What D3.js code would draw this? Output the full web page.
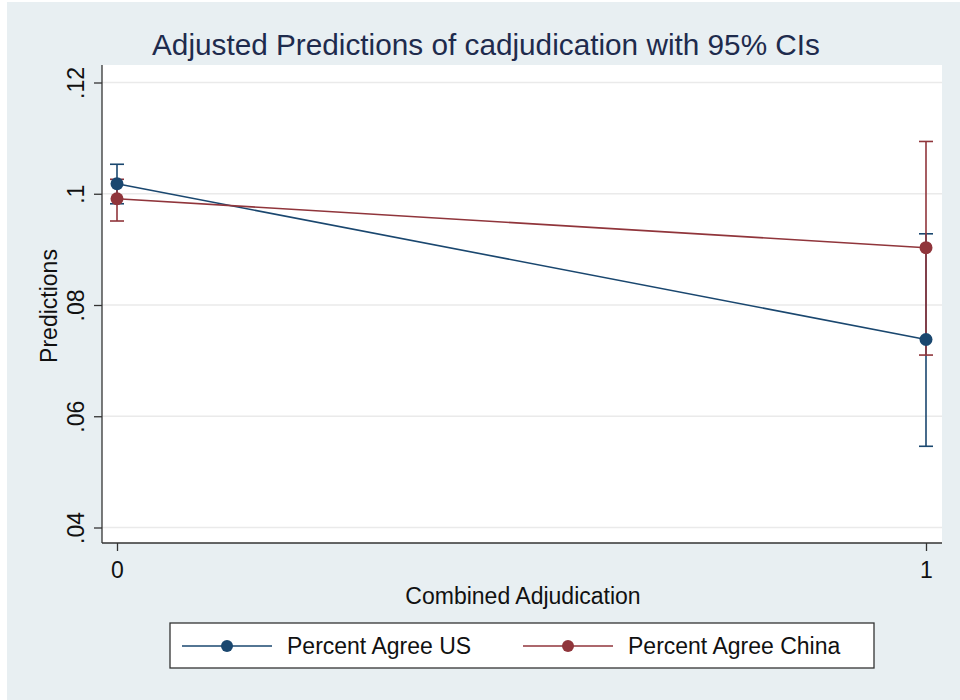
<!DOCTYPE html>
<html>
<head>
<meta charset="utf-8">
<script src="https://cdn.jsdelivr.net/npm/d3@7"></script>
<style>
  html, body { margin: 0; padding: 0; background: #ffffff; }
  svg { display: block; }
  text { font-family: "Liberation Sans", Arial, Helvetica, sans-serif; }
</style>
</head>
<body>
<svg id="chart" width="960" height="700"></svg>
<script>
// Adjusted predictions with 95% confidence intervals
const xCategories = [0, 1];
const xTickLabels = ["0", "1"];
const yTicks = [0.04, 0.06, 0.08, 0.10, 0.12];
const yTickLabels = [".04", ".06", ".08", ".1", ".12"];

const seriesNames = ["Percent Agree US", "Percent Agree China"];
const usEstimate = [0.1018, 0.0738];
const usLower = [0.0982, 0.0546];
const usUpper = [0.1053, 0.0928];
const chinaEstimate = [0.0991, 0.0903];
const chinaLower = [0.0951, 0.0710];
const chinaUpper = [0.1026, 0.1094];

const seriesColors = ["#1a476f", "#90353b"];

const series = [
  { name: seriesNames[0], color: seriesColors[0], est: usEstimate, lo: usLower, hi: usUpper },
  { name: seriesNames[1], color: seriesColors[1], est: chinaEstimate, lo: chinaLower, hi: chinaUpper }
];

const svg = d3.select("#chart");

// outer background
svg.append("rect").attr("x", 7).attr("y", 2).attr("width", 953).attr("height", 698)
  .attr("fill", "#e8eff2");

const plot = { left: 102, right: 942, top: 65, bottom: 543 };

svg.append("rect")
  .attr("x", plot.left).attr("y", plot.top)
  .attr("width", plot.right - plot.left).attr("height", plot.bottom - plot.top)
  .attr("fill", "#ffffff");

const x = d3.scaleLinear().domain([0, 1]).range([117, 926]);
const y = d3.scaleLinear().domain([0.04, 0.12]).range([527.5, 82.5]);

// grid lines
svg.append("g").selectAll("line").data(yTicks).join("line")
  .attr("x1", plot.left).attr("x2", plot.right)
  .attr("y1", d => y(d)).attr("y2", d => y(d))
  .attr("stroke", "#eaeaea").attr("stroke-width", 1.5);

// y axis
const yAxis = d3.axisLeft(y).tickValues(yTicks)
  .tickFormat((d, i) => yTickLabels[i]).tickSize(8).tickPadding(8);
const gy = svg.append("g").attr("transform", `translate(${plot.left},0)`).call(yAxis);
gy.select(".domain").attr("d", `M0,${plot.top}V${plot.bottom}`).attr("stroke", "#333").attr("stroke-width", 1.3);
gy.selectAll(".tick line").attr("stroke", "#333").attr("stroke-width", 1.3);
gy.selectAll(".tick text")
  .attr("font-size", 23).attr("fill", "#111")
  .attr("x", 0).attr("y", 0).attr("dy", 0)
  .attr("text-anchor", "middle")
  .attr("transform", "translate(-18,0) rotate(-90)");

// x axis
const xAxis = d3.axisBottom(x).tickValues(xCategories)
  .tickFormat((d, i) => xTickLabels[i]).tickSize(8).tickPadding(9);
const gx = svg.append("g").attr("transform", `translate(0,${plot.bottom})`).call(xAxis);
gx.select(".domain").attr("d", `M${plot.left},0H${plot.right}`).attr("stroke", "#333").attr("stroke-width", 1.3);
gx.selectAll(".tick line").attr("stroke", "#333").attr("stroke-width", 1.3);
gx.selectAll(".tick text").attr("font-size", 23).attr("fill", "#111")
  .attr("dy", 0).attr("y", 35);

// axis titles
svg.append("text").attr("x", 523).attr("y", 604).attr("text-anchor", "middle")
  .attr("font-size", 23).attr("fill", "#111").text("Combined Adjudication");
svg.append("text").attr("transform", "translate(57,306) rotate(-90)").attr("text-anchor", "middle")
  .attr("font-size", 23).attr("fill", "#111").text("Predictions");

// title
svg.append("text").attr("x", 486).attr("y", 55).attr("text-anchor", "middle")
  .attr("font-size", 29).attr("fill", "#1e2b4d")
  .attr("textLength", 668).attr("lengthAdjust", "spacingAndGlyphs")
  .text("Adjusted Predictions of cadjudication with 95% CIs");

// series: connecting lines, CI bars, points
const line = d3.line().x((d, i) => x(xCategories[i])).y(d => y(d));
const capW = 7;

series.forEach(s => {
  const g = svg.append("g");
  g.append("path").attr("d", line(s.est)).attr("fill", "none")
    .attr("stroke", s.color).attr("stroke-width", 1.6);
  xCategories.forEach((c, i) => {
    const cx = x(c);
    g.append("line").attr("x1", cx).attr("x2", cx).attr("y1", y(s.lo[i])).attr("y2", y(s.hi[i]))
      .attr("stroke", s.color).attr("stroke-width", 1.6);
    [s.lo[i], s.hi[i]].forEach(v => {
      g.append("line").attr("x1", cx - capW).attr("x2", cx + capW).attr("y1", y(v)).attr("y2", y(v))
        .attr("stroke", s.color).attr("stroke-width", 1.6);
    });
  });
});
series.forEach(s => {
  svg.append("g").selectAll("circle").data(s.est).join("circle")
    .attr("cx", (d, i) => x(xCategories[i])).attr("cy", d => y(d)).attr("r", 6.5)
    .attr("fill", s.color);
});

// legend
const leg = svg.append("g");
leg.append("rect").attr("x", 170).attr("y", 623).attr("width", 704).attr("height", 45)
  .attr("fill", "#ffffff").attr("stroke", "#333").attr("stroke-width", 1.3);
const legendX = [182, 523];
series.forEach((s, i) => {
  const lx = legendX[i];
  leg.append("line").attr("x1", lx).attr("x2", lx + 90).attr("y1", 646).attr("y2", 646)
    .attr("stroke", s.color).attr("stroke-width", 1.6);
  leg.append("circle").attr("cx", lx + 45).attr("cy", 646).attr("r", 6).attr("fill", s.color);
  leg.append("text").attr("x", lx + 105).attr("y", 654).attr("font-size", 23).attr("fill", "#111")
    .text(s.name);
});
</script>
</body>
</html>
